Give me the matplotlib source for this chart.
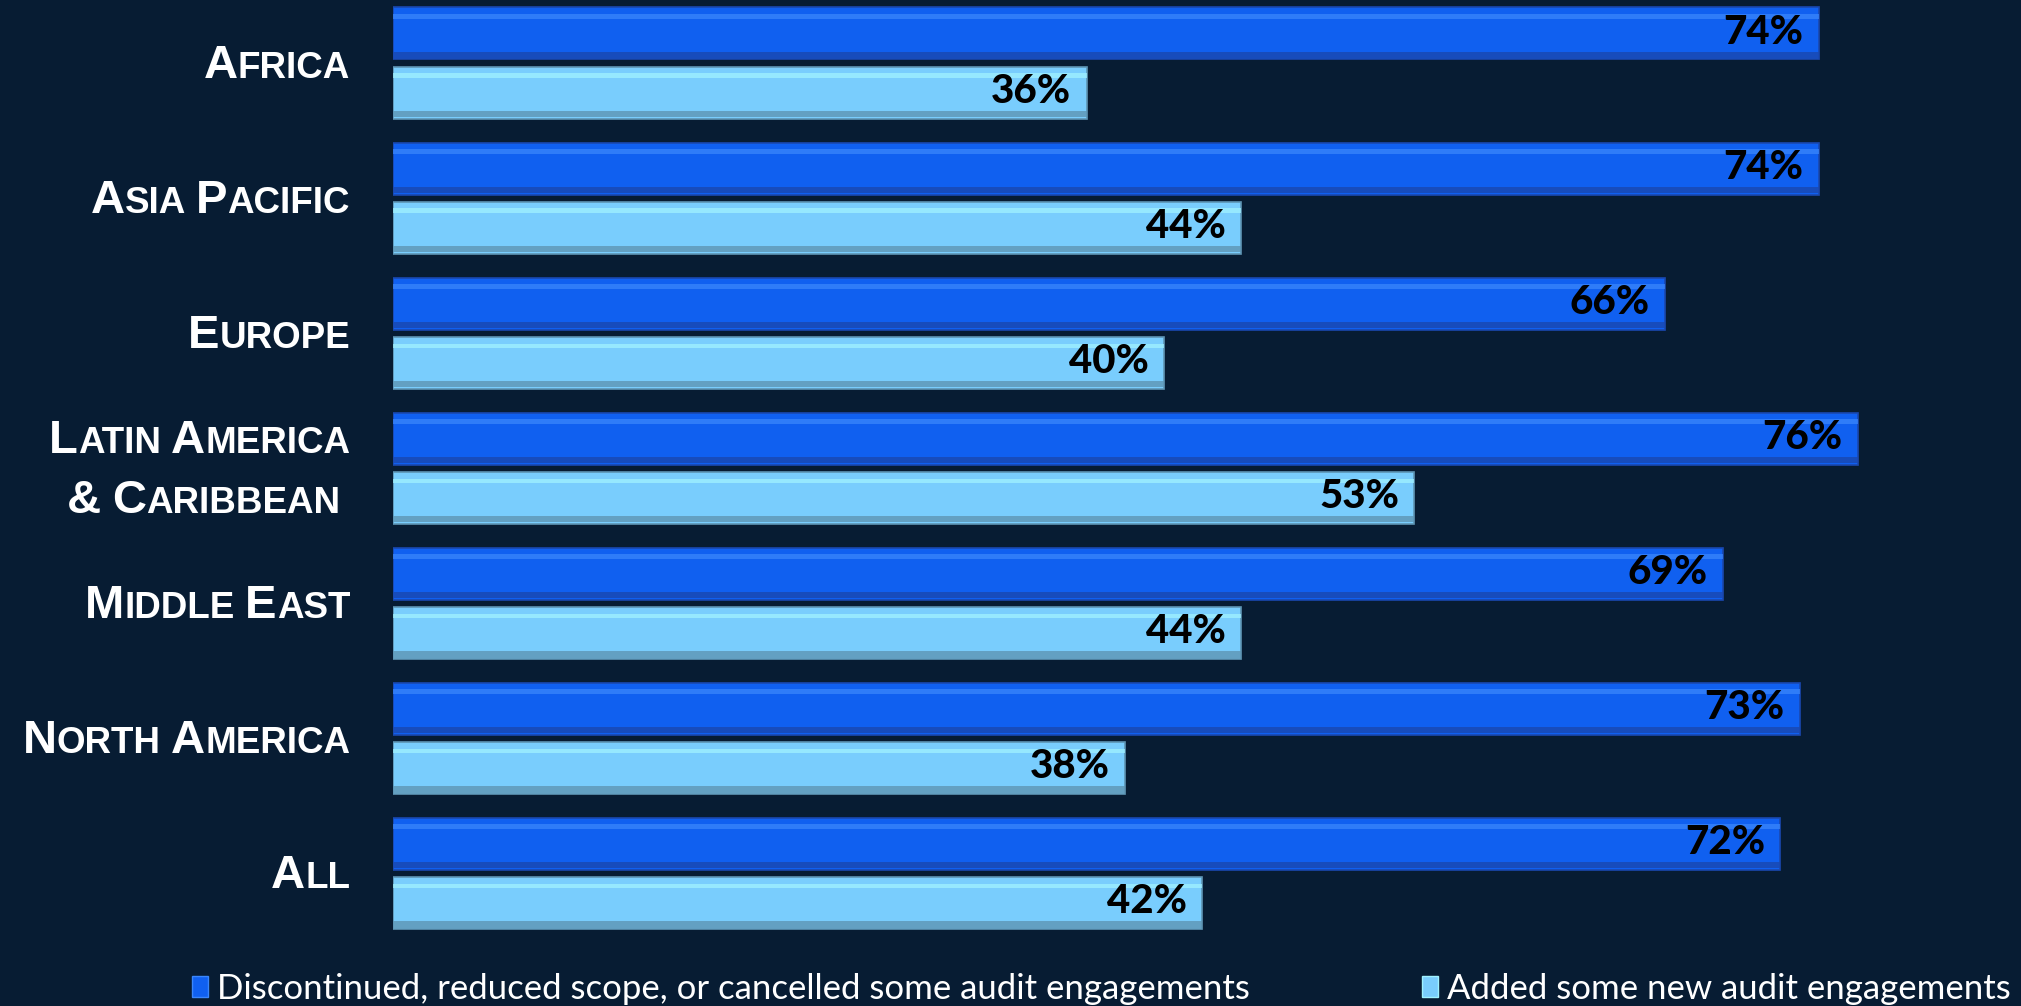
import matplotlib
matplotlib.use('Agg')
import matplotlib.pyplot as plt
from matplotlib.offsetbox import TextArea, HPacker, VPacker, AnnotationBbox
from matplotlib.patches import Patch

# ---------------- data ----------------
regions = [["Africa"], ["Asia Pacific"], ["Europe"],
           ["Latin America", "& Caribbean "], ["Middle East"],
           ["North America"], ["All"]]
discontinued = [74, 74, 66, 76, 69, 73, 72]
added = [36, 44, 40, 53, 44, 38, 42]
series_names = ["Discontinued, reduced scope, or cancelled some audit engagements",
                "Added some new audit engagements"]

# ---------------- style ----------------
BG = '#071c33'
DARK = '#1060f0'
DARK_HI = '#3a86fb'
DARK_LO = '#1a48b0'
LIGHT = '#79cdfd'
LIGHT_HI = '#a0f2ff'
LIGHT_LO = '#5e95b4'

W, H = 2021, 1006
fig = plt.figure(figsize=(W / 100, H / 100), dpi=100, facecolor=BG)
ax_left = 393 / W
ax_w = 84 * 19.27 / W
ax = fig.add_axes([ax_left, 1 - 941 / H, ax_w, 941 / H])
ax.set_facecolor(BG)
ax.set_xlim(0, 84)
ax.set_ylim(6.5, -0.468)
for s in ax.spines.values():
    s.set_visible(False)
ax.set_xticks([])
ax.set_yticks([])

n = len(regions)
ys = list(range(n))
off = 0.22
h = 0.385


def draw_series(vals, centers, main, hi, lo):
    ax.barh(centers, vals, height=h, color=main, edgecolor=lo, linewidth=1.2, zorder=2)
    # top highlight stripe
    ax.barh([c - h / 2 + h * 0.17 for c in centers], vals, height=h * 0.09,
            color=hi, linewidth=0, zorder=3, alpha=0.75)
    # bottom darker band
    ax.barh([c + h / 2 - h * 0.09 for c in centers], vals, height=h * 0.12,
            color=lo, linewidth=0, zorder=3, alpha=0.8)


dark_c = [y - off for y in ys]
light_c = [y + off for y in ys]
draw_series(discontinued, dark_c, DARK, DARK_HI, DARK_LO)
draw_series(added, light_c, LIGHT, LIGHT_HI, LIGHT_LO)

val_font = dict(family=['Lato', 'DejaVu Sans'], weight='black', size=29, color='black')
for v, c in zip(discontinued, dark_c):
    ax.annotate(f"{v}%", xy=(v, c), xytext=(-11, 1), textcoords='offset points',
                ha='right', va='center', zorder=5, **val_font)
for v, c in zip(added, light_c):
    ax.annotate(f"{v}%", xy=(v, c), xytext=(-11, 1), textcoords='offset points',
                ha='right', va='center', zorder=5, **val_font)

# small-caps category labels
CAT_FAM = ['Liberation Sans', 'DejaVu Sans']
BIG, SMALL = 34, 26.5


def smallcaps_line(text):
    parts = []
    for wi, word in enumerate(text.split(' ')):
        if wi > 0:
            parts.append(TextArea(' ', textprops=dict(size=SMALL, family=CAT_FAM,
                                                       weight='bold', color='white')))
        if not word:
            continue
        first, rest = word[0], word[1:]
        parts.append(TextArea(first.upper(), textprops=dict(size=BIG, family=CAT_FAM,
                                                             weight='bold', color='white')))
        if rest:
            parts.append(TextArea(rest.upper(), textprops=dict(size=SMALL, family=CAT_FAM,
                                                                weight='bold', color='white')))
    return HPacker(children=parts, align='baseline', pad=0, sep=0)


for y, lines in zip(ys, regions):
    box = VPacker(children=[smallcaps_line(l) for l in lines], align='right', pad=0, sep=12)
    ab = AnnotationBbox(box, (0, y), xycoords=('axes fraction', 'data'),
                        xybox=(-43 * 0.72, -2), boxcoords='offset points',
                        box_alignment=(1, 0.5), frameon=False, pad=0)
    ax.add_artist(ab)

# legend
handles = [Patch(facecolor=DARK, edgecolor=DARK_HI, linewidth=1),
           Patch(facecolor=LIGHT, edgecolor=LIGHT_HI, linewidth=1)]
leg = fig.legend(handles, series_names, loc='center', bbox_to_anchor=(0.545, 1 - 989 / H),
                 ncol=2, frameon=False, handlelength=0.45, handleheight=0.55,
                 handletextpad=0.25, columnspacing=4.98,
                 prop=dict(family=['Lato', 'DejaVu Sans'], size=25))
for t in leg.get_texts():
    t.set_color('white')

fig.savefig('out.png', dpi=100, facecolor=BG)
